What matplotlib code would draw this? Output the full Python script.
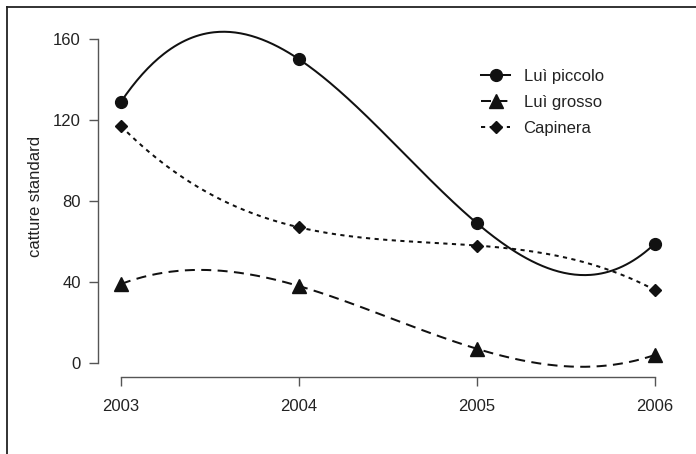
import numpy as np
import matplotlib
matplotlib.use('Agg')
import matplotlib.pyplot as plt
from matplotlib.lines import Line2D

# data
anni = [2003, 2004, 2005, 2006]
lui_piccolo = [129, 150, 69, 59]
lui_grosso = [39, 38, 7, 4]
capinera = [117, 67, 58, 36]

yticks = [0, 40, 80, 120, 160]

plt.rcParams['font.family'] = ['Liberation Sans', 'DejaVu Sans']
plt.rcParams['lines.scale_dashes'] = False

W, H = 696, 454
fig = plt.figure(figsize=(W / 100, H / 100), dpi=100)

# axes box placed in pixel coordinates (R-style detached axes)
x0_px, x1_px = 98, 678
y0_px, y1_px = 377, 19
ax = fig.add_axes([x0_px / W, 1 - y0_px / H, (x1_px - x0_px) / W, (y0_px - y1_px) / H])
ax.patch.set_visible(False)

px_per_year = 178.0
px_per_unit = 2.025
ax.set_xlim(2003 - 23 / px_per_year, 2003 + (x1_px - 121) / px_per_year)
ax.set_ylim(-(y0_px - 363) / px_per_unit, (363 - y1_px) / px_per_unit)


def smooth(xs, ys):
    """spline through the four points (cubic, like R's spline() with n=4)"""
    t = np.asarray(xs, float) - xs[0]
    coef = np.polyfit(t, ys, 3)
    tt = np.linspace(0, t[-1], 300)
    return tt + xs[0], np.polyval(coef, tt)


ink = '#111111'
txt = '#222222'
fs = 12
lw = 1.45
series = [
    ('Luì piccolo', lui_piccolo, '-', 'o', 8.5),
    ('Luì grosso', lui_grosso, (0, (7.2, 4.6)), '^', 10),
    ('Capinera', capinera, (0, (3.0, 3.2)), 'D', 6),
]

handles = []
for name, vals, ls, mk, ms in series:
    xs, ys = smooth(anni, vals)
    ax.plot(xs, ys, color=ink, lw=lw, ls=ls)
    ax.plot(anni, vals, ls='none', marker=mk, ms=ms, color=ink, mec=ink)
    handles.append(Line2D([], [], color=ink, lw=lw, ls=ls, marker=mk, ms=ms))

leg = ax.legend(handles, [s[0] for s in series], loc='upper left',
                bbox_to_anchor=(481 / W, 1 - 68.5 / H), bbox_transform=fig.transFigure,
                frameon=False, fontsize=fs, handlelength=1.75, handletextpad=0.8,
                labelspacing=0.67, borderpad=0, borderaxespad=0)
for t in leg.get_texts():
    t.set_color(txt)

# axis settings
for s in ['top', 'right']:
    ax.spines[s].set_visible(False)
ax.spines['left'].set_bounds(0, 160)
ax.spines['bottom'].set_bounds(2003, 2006)
for s in ['left', 'bottom']:
    ax.spines[s].set_color('#555555')
    ax.spines[s].set_linewidth(1.0)

ax.set_xticks(anni)
ax.set_yticks(yticks)
ax.tick_params(axis='both', length=6.5, width=1.0, color='#555555',
               labelsize=fs, labelcolor=txt)
ax.tick_params(axis='x', pad=9.5)
ax.tick_params(axis='y', pad=6)

ax.set_ylabel('catture standard', fontsize=fs, color=txt, va='center')
ax.yaxis.set_label_coords(36 / W, 1 - 196 / H, transform=fig.transFigure)

# frame lines along the top and left of the picture
fig.add_artist(Line2D([6.5 / W, 6.5 / W], [0, 1 - 6.5 / H], color=txt, lw=1.3))
fig.add_artist(Line2D([6.5 / W, 1], [1 - 6.5 / H, 1 - 6.5 / H], color=txt, lw=1.3))

plt.savefig('out.png', dpi=100)
